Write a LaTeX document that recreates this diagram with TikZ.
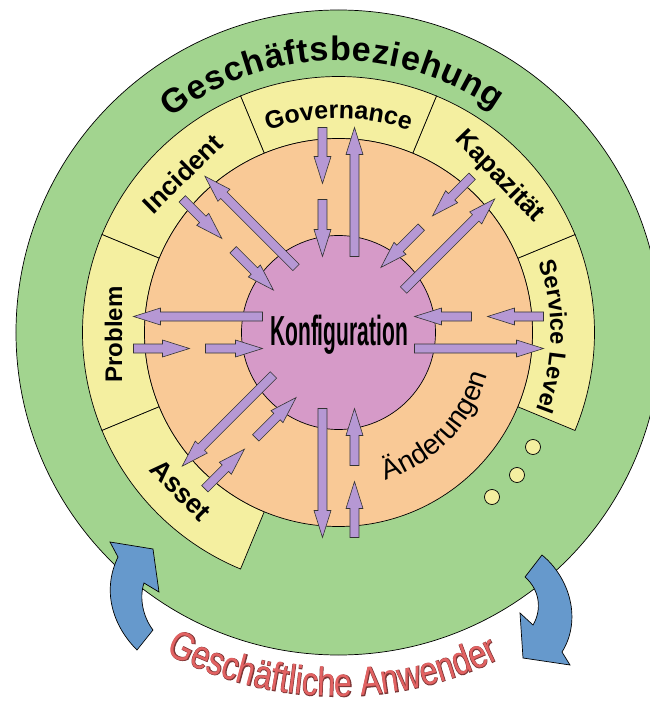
\documentclass[tikz,border=0pt]{standalone}
\usepackage{fontspec}
\setmainfont{Liberation Sans}
\newfontfamily\konffont[FakeStretch=0.5]{Liberation Sans}
\newfontfamily\userfont[FakeStretch=0.8]{Liberation Sans}
\newfontfamily\userfontfat[FakeStretch=0.8,FakeBold=2.5]{Liberation Sans}
\usepackage{tikz}
\usetikzlibrary{decorations.text}

\definecolor{ringgreen}{RGB}{162,212,143}
\definecolor{ringyellow}{RGB}{244,239,160}
\definecolor{ringorange}{RGB}{249,201,150}
\definecolor{corepink}{RGB}{214,154,200}
\definecolor{arrowlilac}{RGB}{182,152,212}
\definecolor{userblue}{RGB}{102,153,204}
\definecolor{userred}{RGB}{226,98,98}

\tikzset{
  outline/.style={draw=black, line width=0.7pt},
  ringpart/.style={outline, fill=ringyellow},
  fatarrow/.style={draw=black!80, line width=0.6pt, fill=arrowlilac, line join=miter},
  bluearrow/.style={outline, fill=userblue, line join=miter},
  ringlabel/.style={decorate, decoration={text along path, text align=center, text={#1}}},
  parttext/.style={font=\bfseries\fontsize{26}{26}\selectfont, inner sep=0pt}
}

% yellow part of the ring between two angles
\newcommand{\ringsector}[2]{%
  \draw[ringpart] (#1:194) arc[start angle=#1, end angle=#2, radius=194pt]
    -- (#2:256) arc[start angle=#2, end angle=#1, radius=256pt] -- cycle;}

% radial block arrow: angle, side offset, from radius, to radius
\newcommand{\radarrow}[4]{%
  \pgfmathsetmacro{\headbase}{#4+ifthenelse(#3>#4,27,-27)}
  \draw[fatarrow, rotate=#1] (#3,#2-4.5) -- (\headbase,#2-4.5) -- (\headbase,#2-8.5)
    -- (#4,#2) -- (\headbase,#2+8.5) -- (\headbase,#2+4.5) -- (#3,#2+4.5) -- cycle;}

\begin{document}
\begin{tikzpicture}[x=1pt,y=1pt]
        \useasboundingbox (-338.5,-371.5) rectangle (310.5,332.5);

        \draw[outline, fill=ringgreen] (0,0) circle (322.5pt);

        % users arrows and dots, in picture pixels
        \begin{scope}[x=1pt, y=-1pt, shift={(-338.5pt,332.5pt)}]
        \draw[bluearrow] (118,557) -- (110,542) -- (153,549) -- (159,592) -- (144,583)
          .. controls (139,598) and (143,617) .. (153,630) -- (137,650)
          .. controls (112,625) and (102,590) .. (118,557) -- cycle;
        \draw[bluearrow] (542,555) .. controls (570,578) and (582,620) .. (562,652)
          -- (570,665) -- (523,658) -- (520,613) -- (533,625)
          .. controls (542,610) and (540,590) .. (525,577) -- cycle;
        \draw[outline, fill=ringyellow] (492,497) circle (7.5pt);
        \draw[outline, fill=ringyellow] (517,475) circle (7.5pt);
        \draw[outline, fill=ringyellow] (533,447) circle (7.5pt);
        \end{scope}

        \ringsector{-22.5}{22.5}
        \ringsector{22.5}{67.5}
        \ringsector{67.5}{112.5}
        \ringsector{112.5}{157.5}
        \ringsector{157.5}{202.5}
        \ringsector{202.5}{247.5}

        \draw[outline, fill=ringorange] (0,0) circle (194pt);
        \draw[outline, fill=corepink] (0,0) circle (97pt);

        \radarrow{0}{16}{205}{149}
        \radarrow{0}{16}{133}{76}
        \radarrow{0}{-16}{76}{205}
        \radarrow{45}{16}{205}{149}
        \radarrow{45}{16}{133}{76}
        \radarrow{45}{-16}{76}{205}
        \radarrow{90}{16}{205}{149}
        \radarrow{90}{16}{133}{76}
        \radarrow{90}{-16}{76}{205}
        \radarrow{135}{16}{205}{149}
        \radarrow{135}{16}{133}{76}
        \radarrow{135}{-16}{76}{205}
        \radarrow{180}{16}{205}{149}
        \radarrow{180}{16}{133}{76}
        \radarrow{180}{-16}{76}{205}
        \radarrow{225}{16}{205}{149}
        \radarrow{225}{16}{133}{76}
        \radarrow{225}{-16}{76}{205}
        \radarrow{270}{16}{205}{149}
        \radarrow{270}{16}{133}{76}
        \radarrow{270}{-16}{76}{205}

        \node (core) at (0.5,-2) {\konffont\bfseries\fontsize{42}{42}\selectfont Konfiguration};

        \node[parttext, rotate=44.5] (incident) at (134.5:223) {Incident};
        \node[parttext, rotate=-46] (capacity) at (44:224) {Kapazität};
        \node[parttext, font=\bfseries\fontsize{24}{24}\selectfont, rotate=90] (problem) at (180.5:225) {Problem};
        \node[parttext, font=\bfseries\fontsize{27}{27}\selectfont, rotate=-45] (asset) at (225:223) {Asset};

        \path[decorate, decoration={text along path, text align={fit to path},
          text={|\bfseries\fontsize{34}{34}\selectfont|Geschäftsbeziehung}}]
          (128:272) arc[start angle=128, end angle=55, radius=272pt];

        \path[ringlabel={|\bfseries\fontsize{25}{25}\selectfont|Governance}]
          (115:214) arc[start angle=115, end angle=65, radius=214pt];
        \path[ringlabel={|\bfseries\fontsize{23.5}{23.5}\selectfont|Service Level}]
          (28:212) arc[start angle=28, end angle=-30, radius=212pt];
        \path[ringlabel={|\fontsize{28}{28}\selectfont|Änderungen}]
          (-80:155) arc[start angle=-80, end angle=-8, radius=155pt];

        \path[ringlabel={|\userfontfat\fontsize{40}{40}\selectfont\color{userred!55!black}|Geschäftliche Anwender}]
          (232:364) arc[start angle=232, end angle=306, radius=364pt];
        \path[ringlabel={|\userfont\fontsize{40}{40}\selectfont\color{userred}|Geschäftliche Anwender}]
          (232:364) arc[start angle=232, end angle=306, radius=364pt];
\end{tikzpicture}
\end{document}
